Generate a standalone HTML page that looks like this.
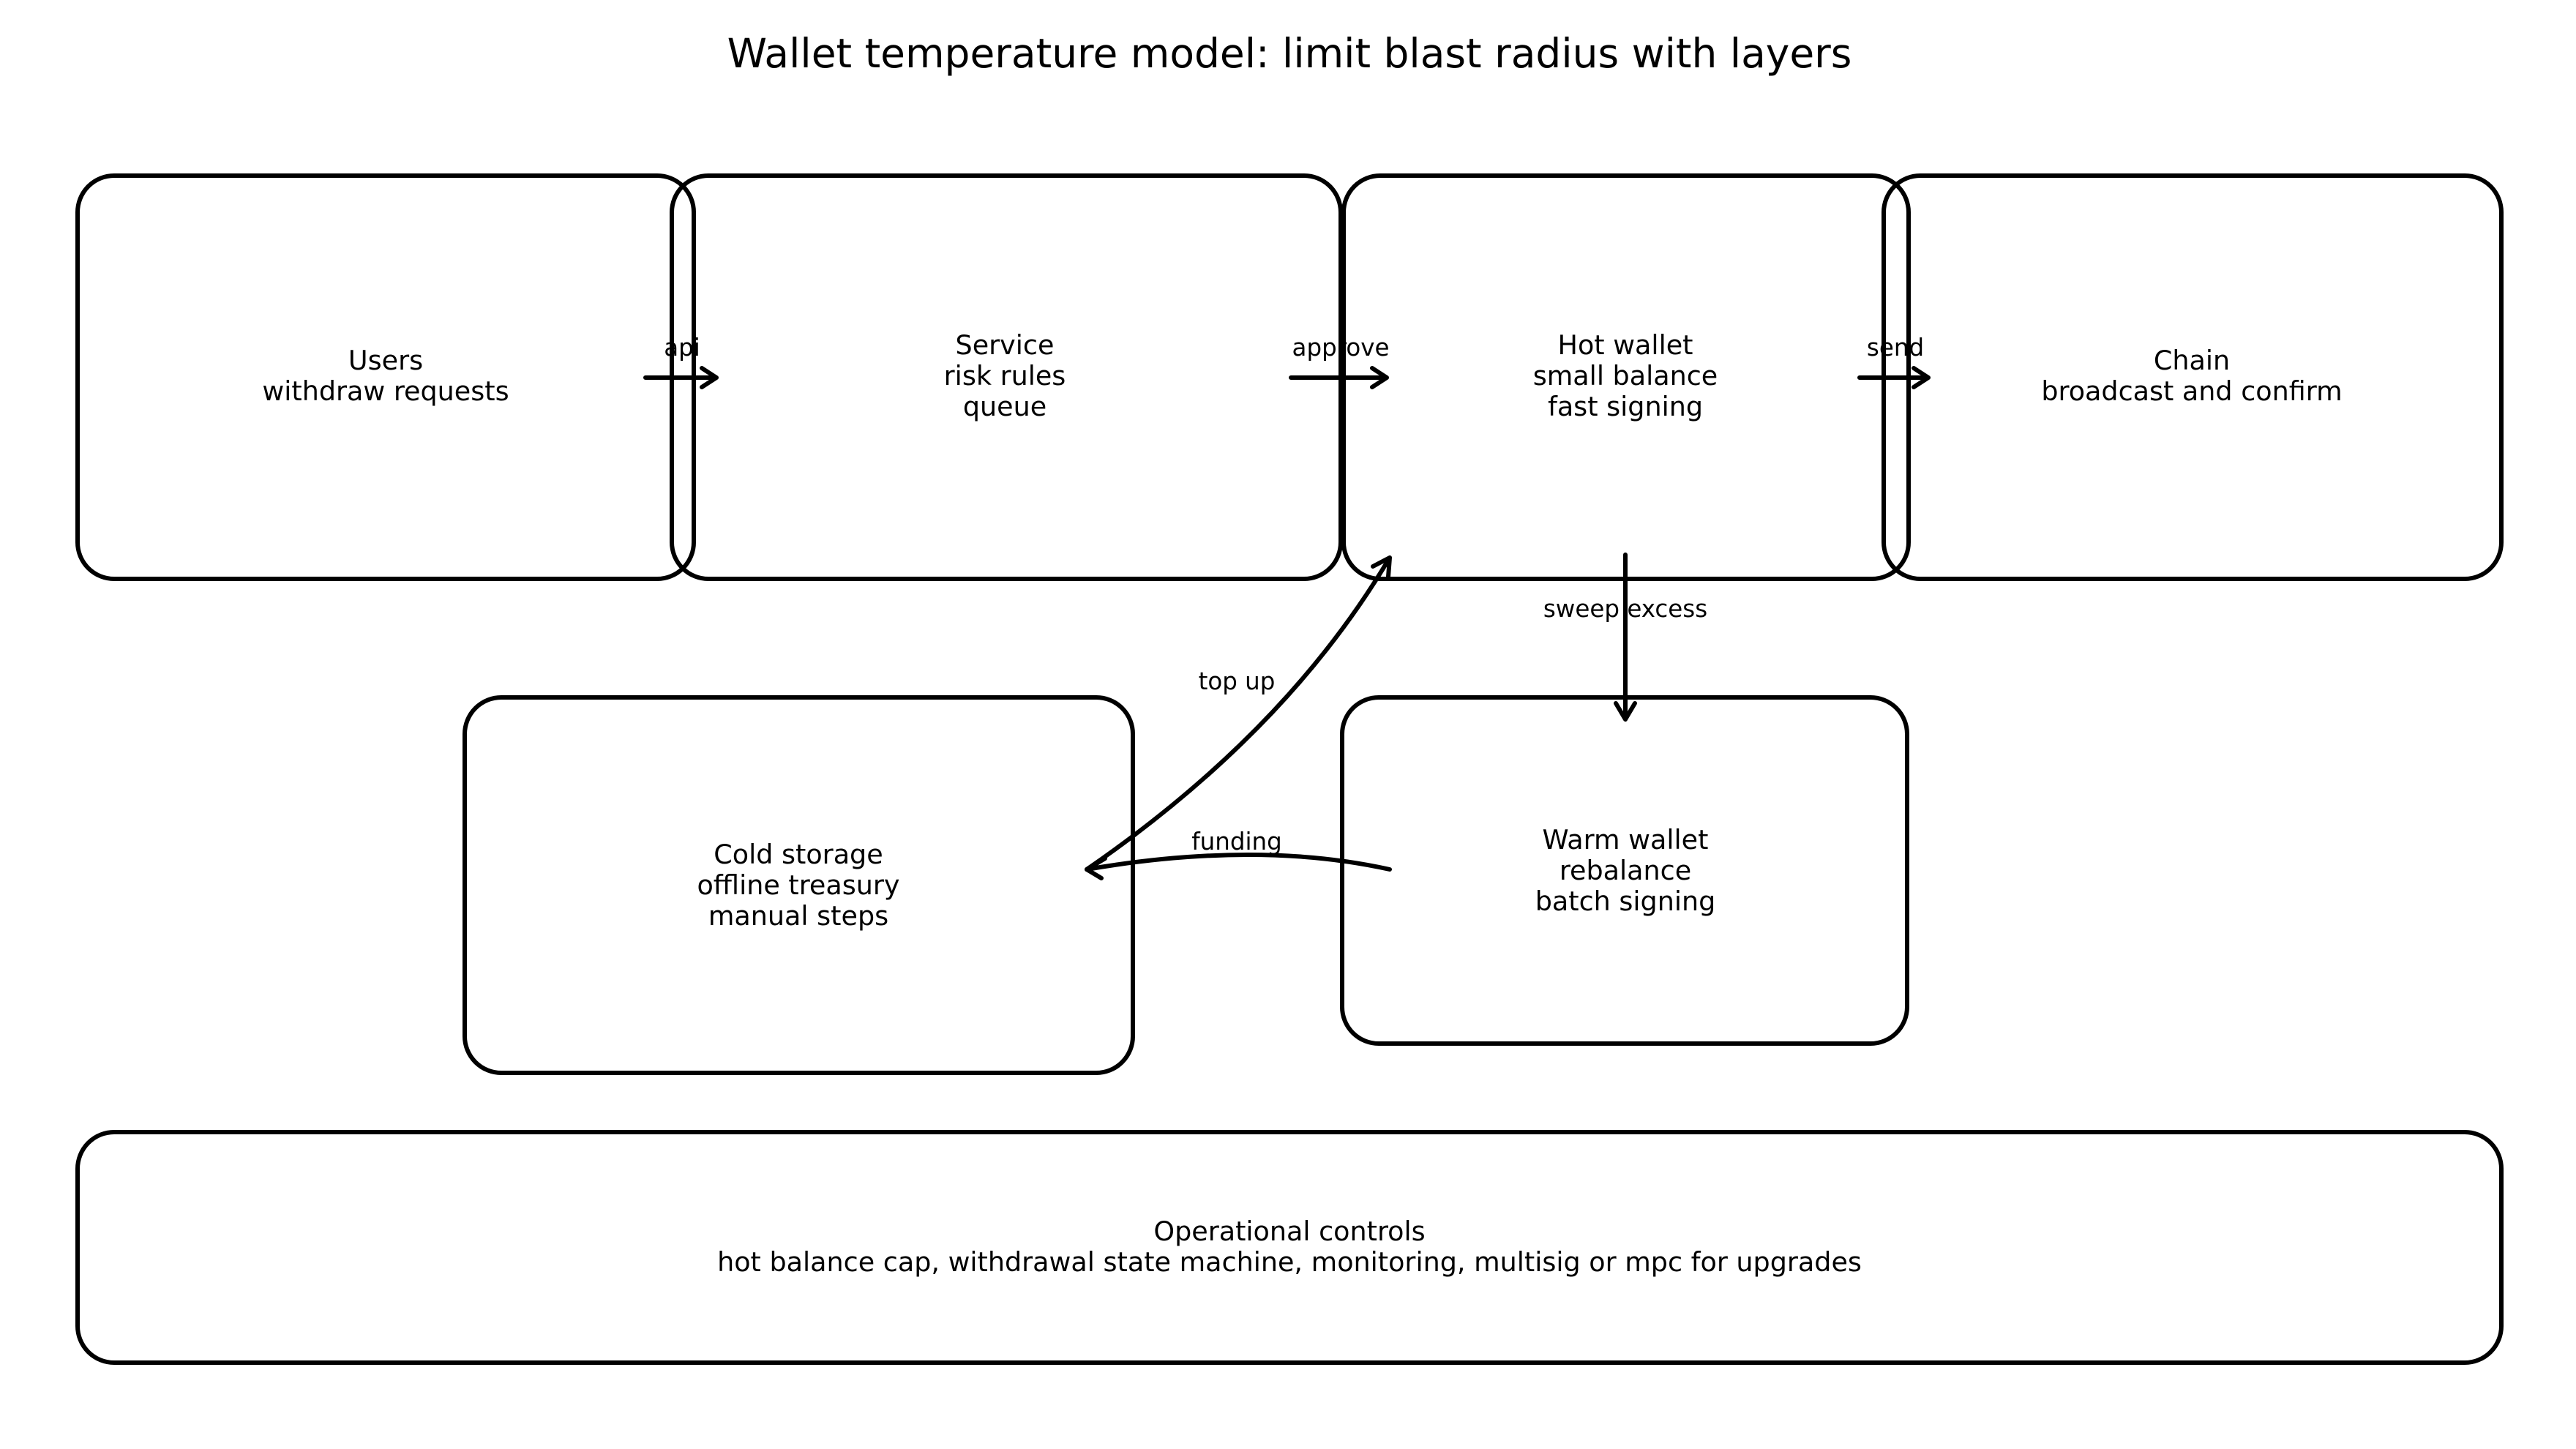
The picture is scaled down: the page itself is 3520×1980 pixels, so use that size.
<!DOCTYPE html>
<html><head><meta charset="utf-8"><style>
html,body{margin:0;padding:0;background:#fff;}
svg{display:block;}
text{font-family:"DejaVu Sans","Liberation Sans",sans-serif;fill:#000;}
</style></head><body>
<svg width="3520" height="1980" viewBox="0 0 3520 1980" xmlns="http://www.w3.org/2000/svg">
<text x="1762" y="92" font-size="55" text-anchor="middle">Wallet temperature model: limit blast radius with layers</text>
<g fill="none" stroke="#000" stroke-width="6">
<rect x="106" y="240" width="842" height="551" rx="50"/>
<rect x="918" y="240" width="914" height="551" rx="50"/>
<rect x="1836" y="240" width="772" height="551" rx="50"/>
<rect x="2574" y="240" width="844" height="551" rx="50"/>
<rect x="635" y="953" width="913" height="513" rx="50"/>
<rect x="1834" y="953" width="772" height="473" rx="50"/>
<rect x="106" y="1547" width="3312" height="315" rx="50"/>
</g>
<g font-size="36.5" text-anchor="middle">
<text x="527" y="505">Users</text><text x="527" y="547">withdraw requests</text>
<text x="1373" y="484">Service</text><text x="1373" y="526">risk rules</text><text x="1373" y="568">queue</text>
<text x="2221" y="484">Hot wallet</text><text x="2221" y="526">small balance</text><text x="2221" y="568">fast signing</text>
<text x="2995" y="505">Chain</text><text x="2995" y="547">broadcast and confirm</text>
<text x="1091" y="1180">Cold storage</text><text x="1091" y="1222">offline treasury</text><text x="1091" y="1264">manual steps</text>
<text x="2221" y="1160">Warm wallet</text><text x="2221" y="1202">rebalance</text><text x="2221" y="1244">batch signing</text>
<text x="1762" y="1695">Operational controls</text><text x="1762" y="1737">hot balance cap, withdrawal state machine, monitoring, multisig or mpc for upgrades</text>
</g>
<g fill="none" stroke="#000" stroke-width="6" stroke-linecap="round" stroke-linejoin="round">
<path d="M882 516 H977 M959 503 L979 516 L959 529"/>
<path d="M1764 516 H1893 M1875 503 L1895 516 L1875 529"/>
<path d="M2541 516 H2633 M2615 503 L2635 516 L2615 529"/>
<path d="M2221 758 V981 M2208 961 L2221 983 L2234 961"/>
<path d="M1485 1188 Q1758 1000 1899 762 M1876 774 L1899 762 L1897 788"/>
<path d="M1899 1188 Q1718 1148 1485 1188 M1510 1173 L1485 1188 L1505 1200"/>
</g>
<g font-size="32.5" text-anchor="middle">
<text x="932" y="486">api</text>
<text x="1832" y="486">approve</text>
<text x="2590" y="486">send</text>
<text x="2221" y="843">sweep excess</text>
<text x="1690" y="942">top up</text>
<text x="1690" y="1161">funding</text>
</g>
</svg>
</body></html>
